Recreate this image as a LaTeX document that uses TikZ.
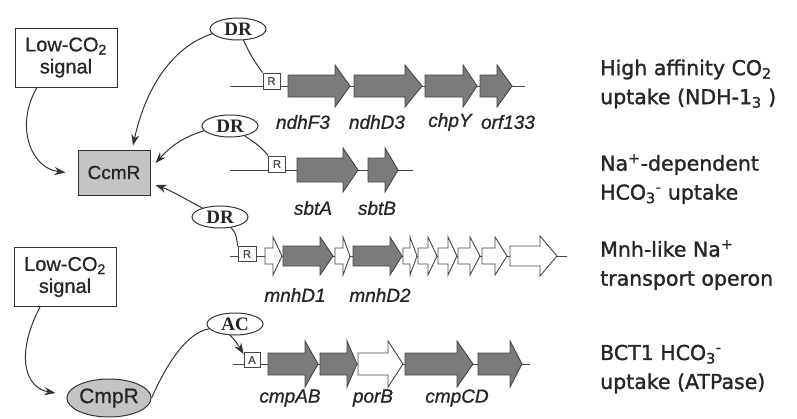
\documentclass[tikz,border=0pt]{standalone}
\usepackage{fontspec}
\setmainfont[FakeBold=0.8]{Liberation Sans}
\newfontfamily\comic[FakeBold=1.3]{DejaVu Sans}
\newfontfamily\serf{Liberation Serif}
\usetikzlibrary{shapes.geometric,arrows.meta}
\pgfdeclarelayer{bg}
\pgfsetlayers{bg,main}
\definecolor{ln}{HTML}{333333}
\definecolor{gfill}{HTML}{7B7B7B}
\definecolor{gedge}{HTML}{454545}
\definecolor{boxfill}{HTML}{C4C4C4}
\definecolor{txt}{HTML}{262626}
\newcommand\gn[7]{\path[#7] (#1,{#4-#5}) -- (#2,{#4-#5}) -- (#2,{#4-#6}) -- (#3,#4) -- (#2,{#4+#6}) -- (#2,{#4+#5}) -- (#1,{#4+#5}) -- cycle;}
\begin{document}
\begin{tikzpicture}[x=1pt,y=-1pt,
 ggene/.style={fill=gfill,draw=gedge,line width=0.9pt},
 wgene/.style={fill=white,draw=gedge,line width=0.9pt},
 dna/.style={draw=gedge,line width=1pt},
 conn/.style={draw=ln,line width=1pt},
 arr/.style={conn,-{Stealth[length=11pt,width=8pt]}},
 ell/.style={ellipse,draw=ln,fill=white,line width=1pt,minimum width=56pt,minimum height=22pt,inner sep=0pt,font=\serf\bfseries\fontsize{19}{19}\selectfont,text=txt},
 site/.style={rectangle,draw=gedge,fill=white,line width=0.8pt,minimum width=17pt,minimum height=16pt,inner sep=0pt,font=\fontsize{11}{11}\selectfont,text=gedge},
 sig/.style={rectangle,draw=ln,fill=white,line width=1pt,minimum width=102pt,minimum height=59pt,inner sep=0pt,align=center,font=\fontsize{20}{22}\selectfont,text=txt},
 glab/.style={font=\itshape\fontsize{19}{19}\selectfont,text=txt,inner sep=0pt},
 desc/.style={anchor=west,align=left,font=\comic\fontsize{20.5}{29}\selectfont,text=txt,inner sep=0pt},
]
\useasboundingbox (0,0) rectangle (797,418);
\begin{pgfonlayer}{bg}
\fill[white] (0,0) rectangle (797,418);
\end{pgfonlayer}

% regulators and signals
\node[sig] (L1) at (66,57.5) {Low-CO\textsubscript{2}\\signal};
\node[rectangle,draw=ln,fill=boxfill,line width=1pt,minimum width=72pt,minimum height=45pt,inner sep=0pt,font=\fontsize{19}{19}\selectfont,text=txt] (CcmR) at (114,172.5) {CcmR};
\node[sig] (L2) at (65,277) {Low-CO\textsubscript{2}\\signal};
\node[ellipse,draw=ln,fill=boxfill,line width=1pt,minimum width=82pt,minimum height=38pt,inner sep=0pt,font=\fontsize{21}{21}\selectfont,text=txt] (CmpR) at (109,398) {CmpR};

% row 1
\path[dna] (230,86) -- (525,86);
\node[site] (R1) at (271.5,81) {R};
\gn{288}{335}{350}{86}{11}{21}{ggene}
\gn{354}{405}{422}{86}{11}{21}{ggene}
\gn{425}{463}{477}{86}{11}{21}{ggene}
\gn{480}{497}{512}{86}{11}{21}{ggene}
\node[glab] (g1) at (303,122) {ndhF3};
\node[glab] (g2) at (377,122) {ndhD3};
\node[glab] (g3) at (450,122) {chpY};
\node[glab] (g4) at (508,122) {orf133};

% row 2
\path[dna] (230,170) -- (413,170);
\node[site] (R2) at (277,164) {R};
\gn{297}{343}{358}{170}{12}{22}{ggene}
\gn{368}{385}{398}{170}{12}{22}{ggene}
\node[glab] (g5) at (313,208) {sbtA};
\node[glab] (g6) at (377,208) {sbtB};

% row 3
\path[dna] (230,256) -- (567,256);
\node[site,minimum width=18pt,minimum height=15pt] (R3) at (247,254) {R};
\gn{265}{273}{282}{256}{8}{19}{wgene}
\gn{283}{320}{333}{256}{10}{19}{ggene}
\gn{335}{343}{350}{256}{8}{19}{wgene}
\gn{353}{390}{402}{256}{10}{19}{ggene}
\gn{403}{410}{417}{256}{8}{19}{wgene}
\gn{418}{428}{437}{256}{8}{19}{wgene}
\gn{438}{448}{457}{256}{8}{19}{wgene}
\gn{458}{470}{480}{256}{8}{19}{wgene}
\gn{482}{495}{507}{256}{8}{19}{wgene}
\gn{510}{540}{557}{256}{10}{20}{wgene}
\node[glab] (g7) at (295,295) {mnhD1};
\node[glab] (g8) at (380,295) {mnhD2};

% row 4
\path[dna] (233,364) -- (530,364);
\node[site,minimum width=16pt,minimum height=15pt] (A1) at (252,360) {A};
\gn{268}{305}{318}{364}{11}{23}{ggene}
\gn{320}{347}{357}{364}{11}{23}{ggene}
\gn{358}{388}{403}{364}{11}{23}{wgene}
\gn{405}{457}{473}{364}{11}{23}{ggene}
\gn{478}{510}{522}{364}{11}{23}{ggene}
\node[glab] (g9) at (290,398) {cmpAB};
\node[glab] (g10) at (373,398) {porB};
\node[glab] (g11) at (457,398) {cmpCD};

% DR / AC labels
\node[ell] (DR1) at (238,29) {DR};
\node[ell] (DR2) at (230,126) {DR};
\node[ell] (DR3) at (220,217) {DR};
\node[ell] (AC) at (235,324) {AC};

% descriptions
\node[desc] (d1) at (600,84) {High affinity CO\textsubscript{2}\\uptake (NDH-1\textsubscript{3} )};
\node[desc] (d2) at (600,179) {Na\textsuperscript{+}-dependent\\HCO\textsubscript{3}\textsuperscript{-} uptake};
\node[desc] (d3) at (600,265) {Mnh-like Na\textsuperscript{+}\\transport operon};
\node[desc] (d4) at (600,369) {BCT1 HCO\textsubscript{3}\textsuperscript{-}\\uptake (ATPase)};

% connectors
\begin{pgfonlayer}{bg}
\draw[arr] ([xshift=-29pt]L1.south) .. controls (15,125) and (30,168) .. ([xshift=-12pt]CcmR.west);
\draw[arr] ([xshift=-25pt]L2.south) .. controls (15,355) and (25,388) .. ([xshift=-11pt,yshift=5pt]CmpR.west);
\draw[conn] (R1.north west) .. controls (252,58) .. (DR1.center);
\draw[arr] (DR1.center) .. controls (175,32) and (145,90) .. ([xshift=19pt,yshift=4pt]CcmR.north);
\draw[conn] (R2.north west) .. controls (260,146) .. (DR2.center);
\draw[arr] (DR2.center) .. controls (190,130) and (172,145) .. ([xshift=5pt,yshift=9.5pt]CcmR.east);
\draw[arr] (DR3.center) .. controls (195,205) and (175,192) .. ([xshift=5pt,yshift=-12.5pt]CcmR.east);
\draw[conn] (DR3.center) .. controls (236,232) .. (R3.north west);
\draw[arr] (CmpR.east) .. controls (175,345) and (200,322) .. (222,330) .. controls (232,334) and (238,345) .. ([yshift=-2pt]A1.north west);
\end{pgfonlayer}
\end{tikzpicture}
\end{document}
